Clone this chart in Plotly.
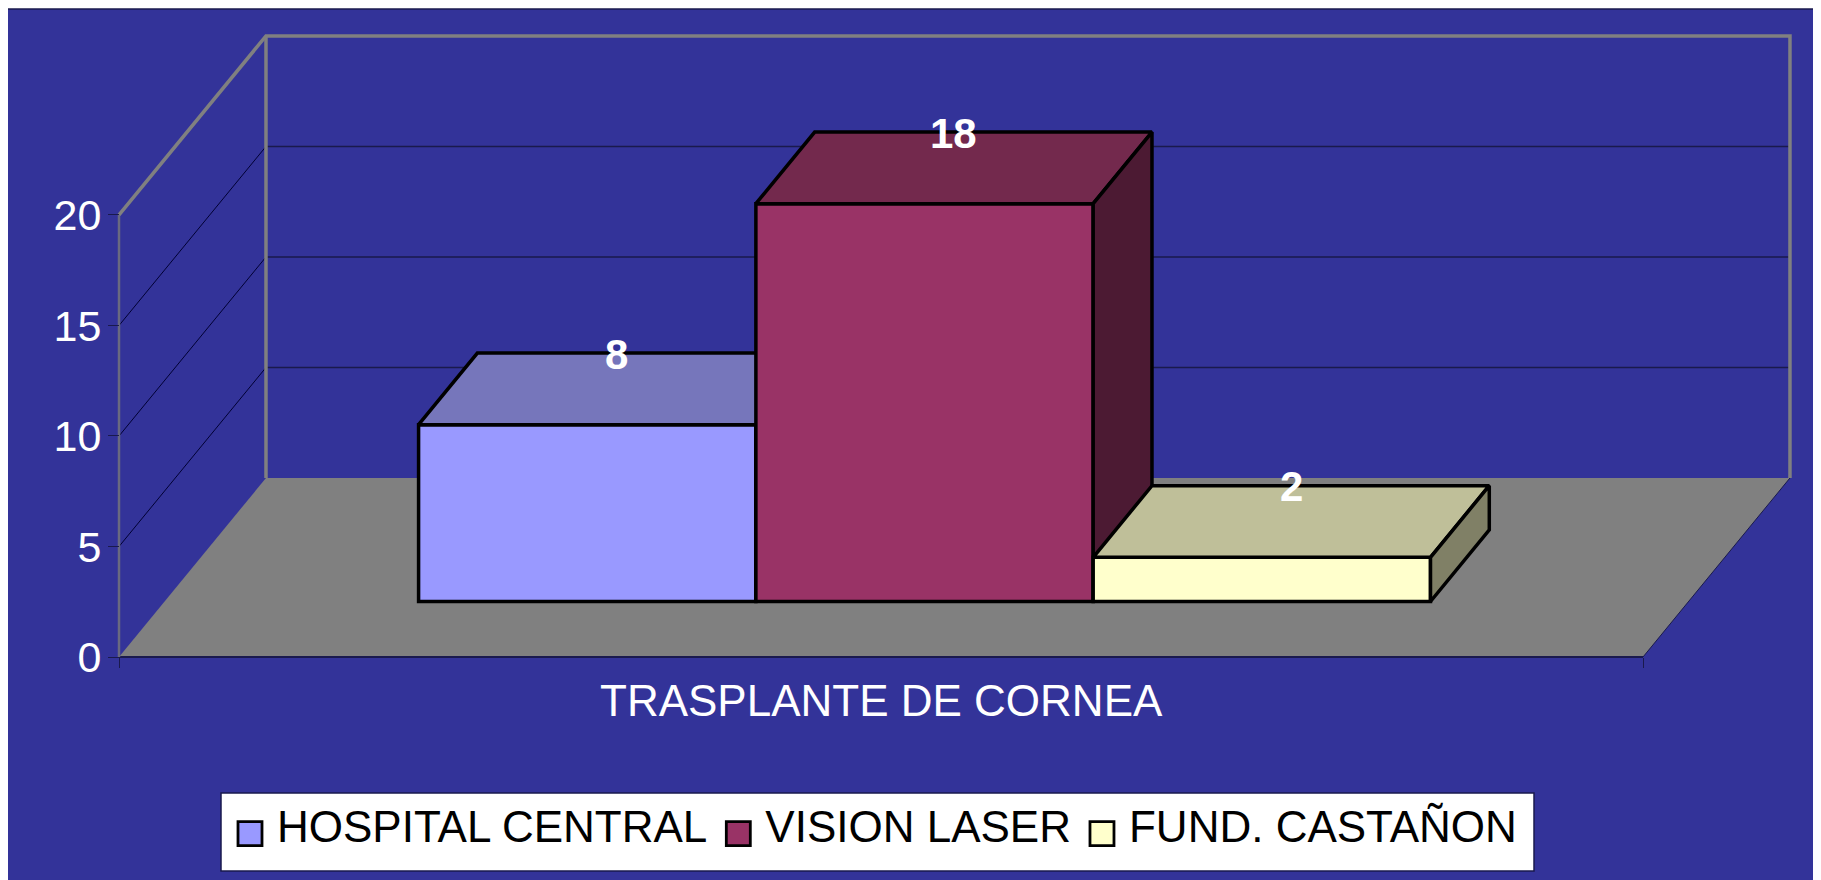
import plotly.graph_objects as go

categories = ["HOSPITAL CENTRAL", "VISION LASER", "FUND. CASTAÑON"]
values = [8, 18, 2]
front_colors = ["#9999FF", "#993366", "#FFFFCC"]
top_colors = ["#7676BB", "#73294D", "#BFBF99"]
side_colors = ["#4D4D80", "#4C1A33", "#808066"]
y_ticks = [0, 5, 10, 15, 20]
x_label = "TRASPLANTE DE CORNEA"

W, H = 1813, 872
FONT = "Liberation Sans, Arial, sans-serif"
BLUE, GRAY, DARK = "#333399", "#808080", "#1A1A4D"

# depth of the floor, in axis units, and where the bars sit inside it
DX, DY = 0.434, 8.1
F0, F1 = 0.31, 0.71
GAP = 0.75
BAR_W = 0.996
NBARS = len(values)
FLOOR = 2 * GAP + NBARS
YMAX = y_ticks[-1]
x_range = [-0.3278, 5.0256]
y_range = [-10.09, 29.32]

fig = go.Figure()


def line(xs, ys, color, width):
    fig.add_trace(go.Scatter(x=xs, y=ys, mode="lines", showlegend=False, hoverinfo="skip",
                             line=dict(color=color, width=width)))


# floor
fig.add_trace(go.Scatter(x=[0, FLOOR, FLOOR + DX, DX, 0], y=[0, 0, DY, DY, 0], mode="lines",
                         fill="toself", fillcolor=GRAY, line=dict(width=0),
                         showlegend=False, hoverinfo="skip"))
line([FLOOR, FLOOR + DX], [0, DY], DARK, 1)
line([0, FLOOR], [0, 0], DARK, 2)
# gridlines on both walls
for t in y_ticks[1:-1]:
    line([0, DX], [t, t + DY], "#000033", 1)
    line([DX, DX + FLOOR], [t + DY, t + DY], DARK, 1.5)
# wall outline
line([0, 0], [0, YMAX], "#6A6A80", 2.5)
line([0, DX, DX + FLOOR, DX + FLOOR], [YMAX, YMAX + DY, YMAX + DY, DY], GRAY, 3.5)
line([DX, DX], [YMAX + DY, DY], GRAY, 3.5)

# bars, painted left to right, each on its own overlaid axes above the floor
annotations = []
for i, (name, v) in enumerate(zip(categories, values)):
    suffix = str(i + 2)
    xa, ya = "x" + suffix, "y" + suffix
    left = GAP + i * BAR_W + F0 * DX
    base = F0 * DY
    ddx, ddy = (F1 - F0) * DX, (F1 - F0) * DY
    right = left + BAR_W
    top = base + v
    fig.add_trace(go.Bar(x=[left + BAR_W / 2], y=[v], base=[base], width=[BAR_W], name=name,
                         marker=dict(color=front_colors[i], line=dict(color="black", width=3.5)),
                         xaxis=xa, yaxis=ya, hoverinfo="name+y"))
    fig.add_trace(go.Scatter(x=[left, left + ddx, right + ddx, right, left],
                             y=[top, top + ddy, top + ddy, top, top], mode="lines", fill="toself",
                             fillcolor=top_colors[i], line=dict(color="black", width=3.5),
                             xaxis=xa, yaxis=ya, showlegend=False, hoverinfo="skip"))
    fig.add_trace(go.Scatter(x=[right, right + ddx, right + ddx, right, right],
                             y=[top, top + ddy, base + ddy, base, top], mode="lines", fill="toself",
                             fillcolor=side_colors[i], line=dict(color="black", width=3.5),
                             xaxis=xa, yaxis=ya, showlegend=False, hoverinfo="skip"))
    annotations.append(dict(x=left + BAR_W / 2 + ddx / 2, y=top + ddy - 0.05, xref="x", yref="y",
                            text=str(v), showarrow=False, xanchor="center", yanchor="middle",
                            font=dict(family=FONT, size=42, color="white", weight="bold")))

annotations.append(dict(x=FLOOR / 2, y=-1.98, xref="x", yref="y", text=x_label, showarrow=False,
                        xanchor="center", yanchor="middle",
                        font=dict(family=FONT, size=44, color="white")))

overlay_x = dict(range=x_range, overlaying="x", visible=False, fixedrange=True)
overlay_y = dict(range=y_range, overlaying="y", visible=False, fixedrange=True)

fig.update_layout(
    width=W, height=H, autosize=False,
    margin=dict(l=0, r=0, t=1, b=0, pad=0),
    paper_bgcolor="white", plot_bgcolor=BLUE,
    font=dict(family=FONT, color="white"),
    xaxis=dict(range=x_range, anchor="free", position=(880 - 657) / 871, tickvals=[0, FLOOR],
               ticktext=["", ""], ticks="outside", ticklen=10, tickcolor=DARK, tickwidth=1,
               showgrid=False, zeroline=False, showline=False, fixedrange=True),
    yaxis=dict(range=y_range, anchor="free", position=(119 - 8) / 1813, tickvals=y_ticks,
               ticks="outside", ticklen=11, tickcolor=DARK, tickwidth=1, ticklabelstandoff=-2,
               tickfont=dict(family=FONT, size=43, color="white"),
               showgrid=False, zeroline=False, showline=False, fixedrange=True),
    xaxis2=dict(overlay_x, anchor="y2"), yaxis2=dict(overlay_y, anchor="x2"),
    xaxis3=dict(overlay_x, anchor="y3"), yaxis3=dict(overlay_y, anchor="x3"),
    xaxis4=dict(overlay_x, anchor="y4"), yaxis4=dict(overlay_y, anchor="x4"),
    annotations=annotations,
    shapes=[
        dict(type="rect", xref="paper", yref="paper", x0=(221 - 8) / 1813, x1=(1534 - 8) / 1813,
             y0=(880 - 871) / 871, y1=(880 - 793) / 871, fillcolor="white",
             line=dict(color=DARK, width=1.5), layer="above"),
        dict(type="line", xref="paper", yref="paper", x0=0, x1=1, y0=1, y1=1,
             line=dict(color=DARK, width=1.5), layer="above"),
    ],
    showlegend=True,
    legend=dict(orientation="h", x=(224 - 8) / 1813, xanchor="left", y=(880 - 825) / 871,
                yanchor="middle", bgcolor="rgba(0,0,0,0)", borderwidth=0, itemwidth=43,
                font=dict(family=FONT, size=44, color="black"), traceorder="normal"),
)

post = """
document.documentElement.style.overflow='hidden';
document.body.style.overflow='hidden';
function bigSwatches(){
  document.querySelectorAll('.legend .legendpoints path').forEach(function(p){
    p.setAttribute('transform','translate(26,9) scale(2)');
    p.style.strokeWidth='1.4px';
  });
}
bigSwatches(); setTimeout(bigSwatches,50); setTimeout(bigSwatches,300);
"""
fig.write_html("out.html", post_script=post, config=dict(displayModeBar=False))
